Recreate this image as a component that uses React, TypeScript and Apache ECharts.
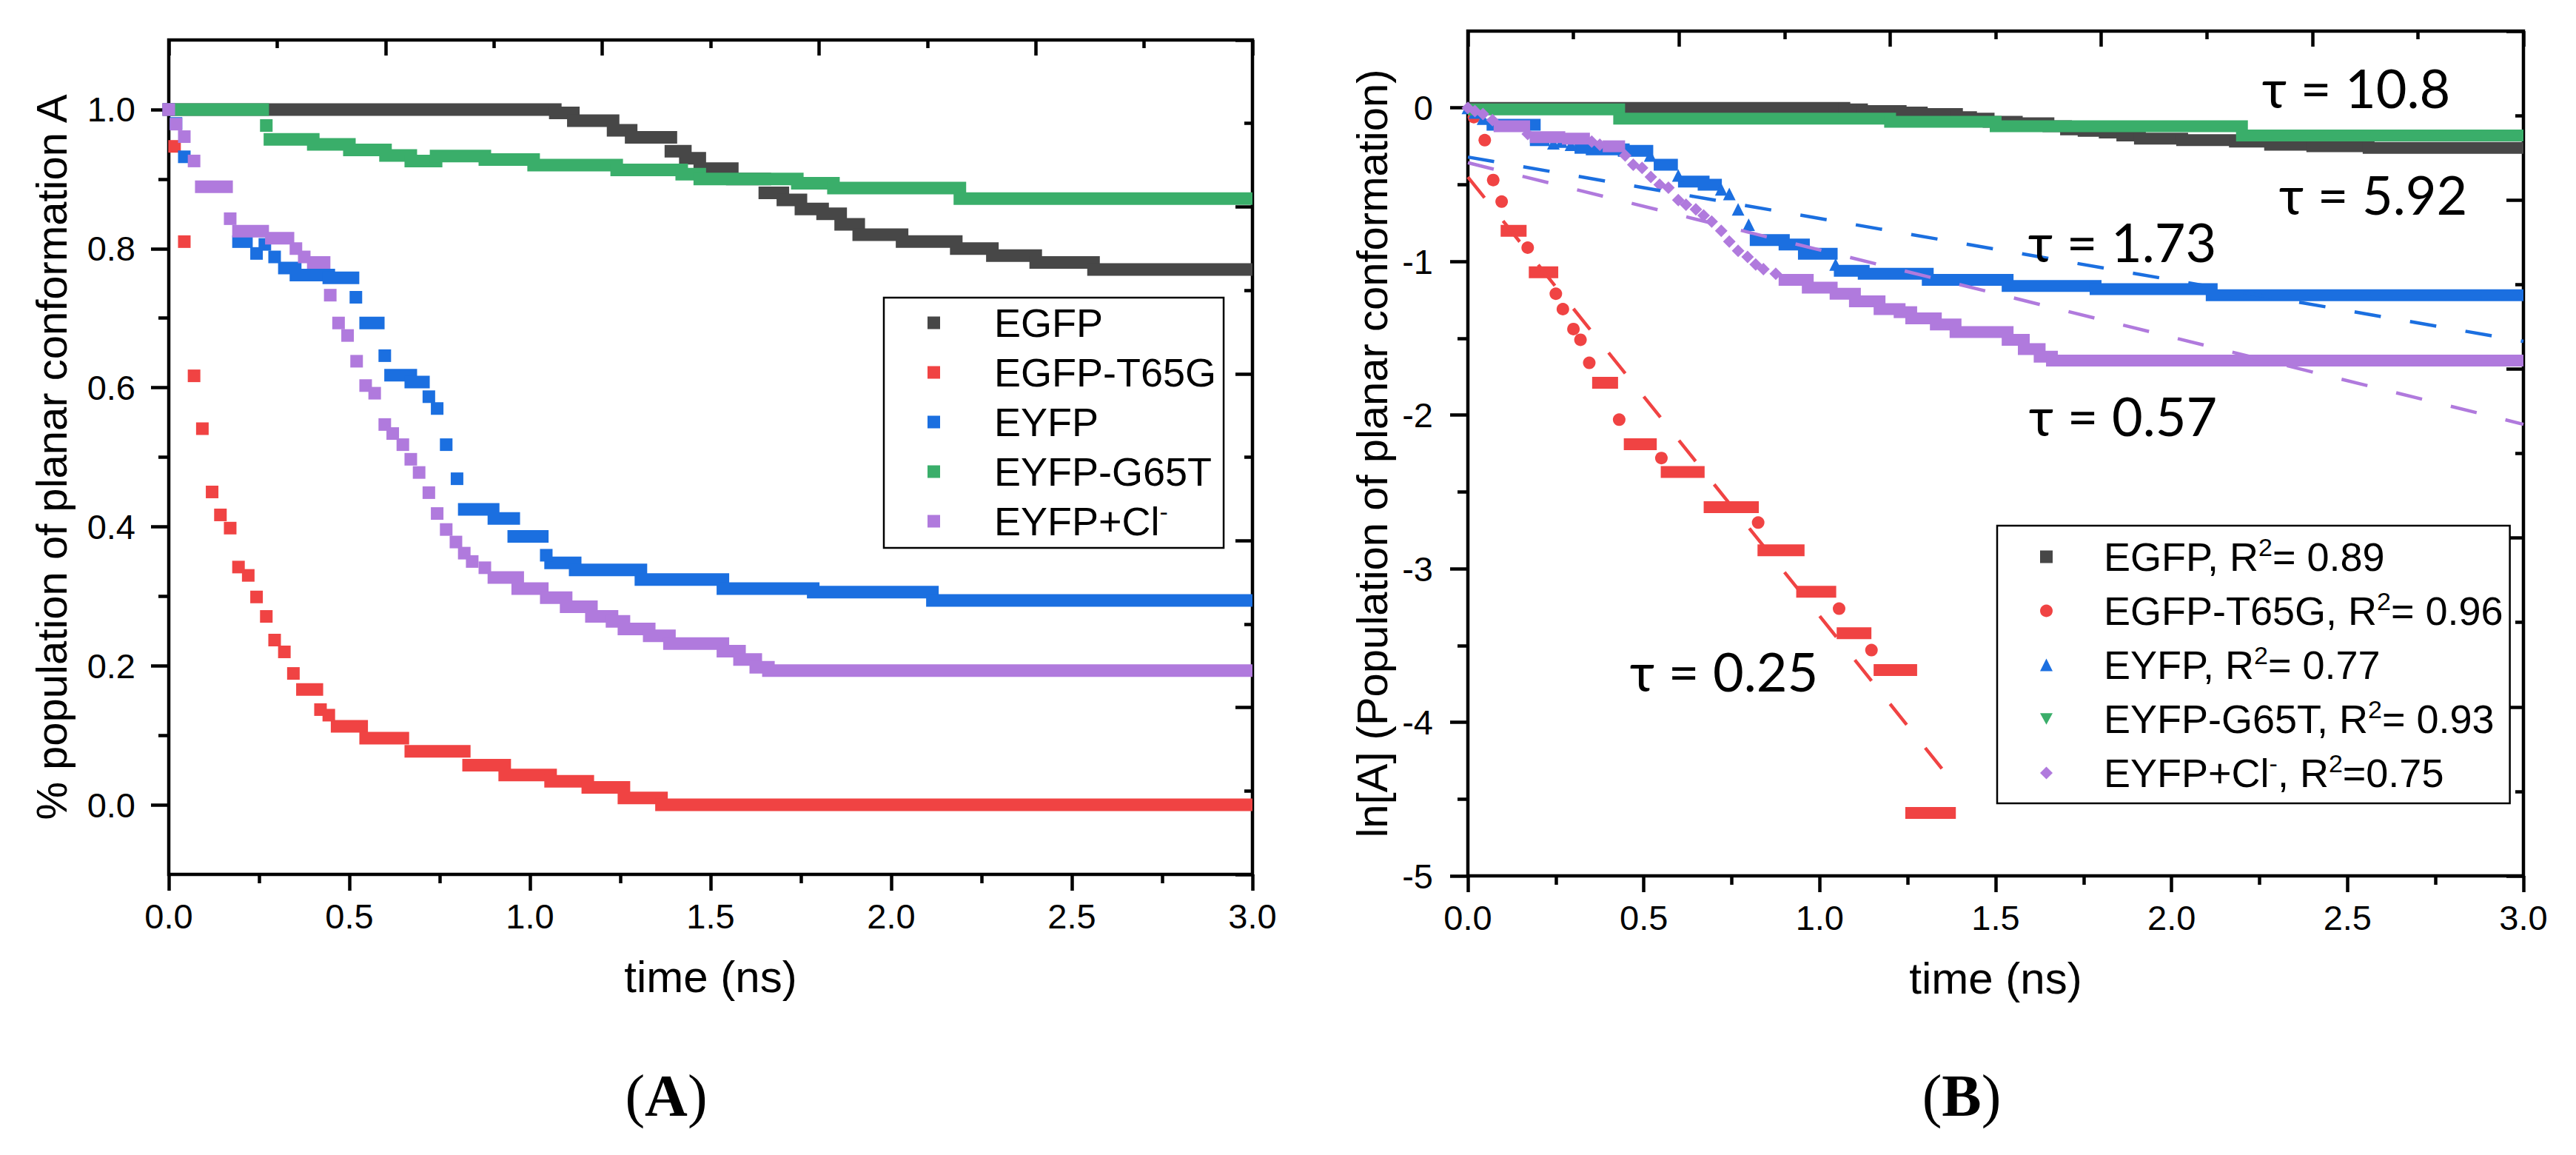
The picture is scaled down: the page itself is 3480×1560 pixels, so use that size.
import React, { useEffect, useRef } from 'react';
import * as echarts from 'echarts';

// ---------- shared ----------
const FONT = '"Liberation Sans", Arial, Helvetica, sans-serif';
const TAU_FONT = 'Lato, "Noto Sans", "Open Sans", sans-serif';
const SERIF = '"Liberation Serif", "Times New Roman", serif';
const COLORS = ['#474747', '#f04343', '#1b6fe0', '#3aae6a', '#b07add'];

// ---------- panel A: population (segments [tStart, tEnd, value]) ----------
const NAMES_A = ['EGFP', 'EGFP-T65G', 'EYFP', 'EYFP-G65T', 'EYFP+Cl⁻'];
const Y_A_MAJOR = [0, 0.2, 0.4, 0.6, 0.8, 1.0];
const Y_A_MINOR = [0.1, 0.3, 0.5, 0.7, 0.9];

const EGFP_A = [
  [0, 1.07, 1.0], [1.07, 1.12, 0.995], [1.12, 1.23, 0.984], [1.23, 1.28, 0.97], [1.28, 1.39, 0.96],
  [1.39, 1.43, 0.94], [1.43, 1.47, 0.93], [1.47, 1.56, 0.915], [1.56, 1.65, 0.9], [1.65, 1.7, 0.88],
  [1.7, 1.75, 0.87], [1.75, 1.81, 0.857], [1.81, 1.86, 0.85], [1.86, 1.91, 0.835], [1.91, 2.03, 0.82],
  [2.03, 2.18, 0.81], [2.18, 2.28, 0.8], [2.28, 2.4, 0.79], [2.4, 2.56, 0.78], [2.56, 3.0, 0.77],
];
const T65G_A = [
  [0, 0, 1.0], [0.016, 0.016, 0.947], [0.043, 0.043, 0.81], [0.07, 0.07, 0.617], [0.093, 0.093, 0.541],
  [0.12, 0.12, 0.45], [0.143, 0.143, 0.417], [0.17, 0.17, 0.398], [0.193, 0.193, 0.342], [0.22, 0.22, 0.33],
  [0.243, 0.243, 0.299], [0.27, 0.27, 0.271], [0.293, 0.293, 0.237], [0.32, 0.32, 0.22], [0.345, 0.345, 0.189],
  [0.37, 0.41, 0.166], [0.42, 0.42, 0.137], [0.443, 0.443, 0.129], [0.466, 0.534, 0.113], [0.545, 0.648, 0.096],
  [0.67, 0.818, 0.077], [0.83, 0.93, 0.057], [0.93, 1.057, 0.043], [1.057, 1.16, 0.034], [1.16, 1.26, 0.025],
  [1.26, 1.364, 0.01], [1.364, 3.0, 0.0],
];
const EYFP_A = [
  [0, 0, 1.0], [0.02, 0.02, 0.98], [0.043, 0.043, 0.932], [0.193, 0.215, 0.81], [0.243, 0.243, 0.793],
  [0.266, 0.266, 0.806], [0.293, 0.293, 0.788], [0.32, 0.35, 0.772], [0.352, 0.443, 0.762], [0.443, 0.51, 0.758],
  [0.518, 0.518, 0.73], [0.545, 0.58, 0.693], [0.598, 0.598, 0.646], [0.614, 0.67, 0.618], [0.67, 0.705, 0.608],
  [0.72, 0.72, 0.587], [0.743, 0.743, 0.57], [0.768, 0.768, 0.518], [0.798, 0.798, 0.469], [0.818, 0.898, 0.425],
  [0.9, 0.955, 0.412], [0.955, 1.034, 0.386], [1.045, 1.045, 0.359], [1.057, 1.125, 0.348], [1.125, 1.307, 0.338],
  [1.307, 1.534, 0.324], [1.534, 1.784, 0.311], [1.784, 2.114, 0.306], [2.114, 3.0, 0.294],
];
const G65T_A = [
  [0, 0.26, 1.0], [0.27, 0.27, 0.977], [0.28, 0.4, 0.957], [0.4, 0.5, 0.95], [0.5, 0.6, 0.942],
  [0.6, 0.67, 0.934], [0.67, 0.74, 0.926], [0.74, 0.875, 0.933], [0.875, 1.01, 0.928], [1.01, 1.24, 0.92],
  [1.24, 1.42, 0.913], [1.42, 1.47, 0.907], [1.47, 1.74, 0.9], [1.74, 1.84, 0.894], [1.84, 2.19, 0.887],
  [2.19, 3.0, 0.872],
];
const CL_A = [
  [0, 0, 1.0], [0.02, 0.02, 0.979], [0.043, 0.043, 0.961], [0.07, 0.07, 0.926], [0.09, 0.16, 0.889],
  [0.17, 0.17, 0.843], [0.193, 0.26, 0.825], [0.284, 0.33, 0.815], [0.352, 0.352, 0.8], [0.375, 0.375, 0.788],
  [0.4, 0.43, 0.78], [0.447, 0.447, 0.733], [0.47, 0.47, 0.693], [0.495, 0.495, 0.675], [0.52, 0.52, 0.638],
  [0.545, 0.545, 0.603], [0.57, 0.57, 0.592], [0.598, 0.598, 0.547], [0.62, 0.62, 0.534], [0.648, 0.648, 0.518],
  [0.67, 0.67, 0.497], [0.693, 0.693, 0.478], [0.72, 0.72, 0.449], [0.743, 0.743, 0.419], [0.768, 0.768, 0.396],
  [0.795, 0.795, 0.378], [0.818, 0.818, 0.362], [0.84, 0.84, 0.35], [0.875, 0.875, 0.341], [0.9, 0.966, 0.327],
  [0.966, 1.034, 0.311], [1.045, 1.1, 0.298], [1.1, 1.17, 0.285], [1.17, 1.227, 0.271], [1.227, 1.26, 0.264],
  [1.26, 1.33, 0.253], [1.33, 1.386, 0.243], [1.386, 1.534, 0.232], [1.534, 1.58, 0.221], [1.58, 1.625, 0.209],
  [1.625, 1.66, 0.198], [1.66, 3.0, 0.193],
];

// ---------- panel B: ln[A] ----------
const NAMES_B = ['EGFP, R²= 0.89', 'EGFP-T65G, R²= 0.96', 'EYFP, R²= 0.77', 'EYFP-G65T, R²= 0.93', 'EYFP+Cl⁻, R²=0.75'];
const INV_TRI = 'path://M0,0L10,0L5,9z';
const SYMBOLS_B = ['rect', 'circle', 'triangle', INV_TRI, 'diamond'];
const Y_B_MAJOR = [-5, -4, -3, -2, -1, 0];
const Y_B_MINOR = [-4.5, -3.5, -2.5, -1.5, -0.5];

const EGFP_B = [
  [0, 1.07, 0], [1.07, 1.12, -0.01], [1.12, 1.23, -0.02], [1.23, 1.29, -0.03], [1.29, 1.39, -0.04],
  [1.39, 1.43, -0.06], [1.43, 1.48, -0.07], [1.48, 1.56, -0.09], [1.56, 1.65, -0.1], [1.65, 1.7, -0.12],
  [1.7, 1.75, -0.14], [1.75, 1.81, -0.15], [1.81, 1.86, -0.16], [1.86, 1.91, -0.18], [1.91, 2.03, -0.2],
  [2.03, 2.18, -0.21], [2.18, 2.28, -0.22], [2.28, 2.4, -0.24], [2.4, 2.56, -0.25], [2.56, 3.0, -0.26],
];
const T65G_B = [
  [0.017, 0.017, -0.06], [0.048, 0.048, -0.21], [0.072, 0.072, -0.47], [0.096, 0.096, -0.61], [0.11, 0.15, -0.8],
  [0.17, 0.17, -0.91], [0.19, 0.24, -1.07], [0.25, 0.25, -1.21], [0.27, 0.27, -1.31], [0.3, 0.3, -1.44],
  [0.32, 0.32, -1.51], [0.345, 0.345, -1.66], [0.37, 0.41, -1.79], [0.43, 0.43, -2.03], [0.46, 0.52, -2.19],
  [0.55, 0.55, -2.28], [0.565, 0.656, -2.37], [0.687, 0.81, -2.6], [0.825, 0.825, -2.7], [0.84, 0.94, -2.88],
  [0.95, 1.03, -3.15], [1.055, 1.055, -3.26], [1.065, 1.13, -3.42], [1.147, 1.147, -3.53], [1.17, 1.26, -3.66],
  [1.26, 1.37, -4.59],
];
const EYFP_B = [
  [0, 0, 0], [0.02, 0.02, -0.03], [0.043, 0.043, -0.07], [0.07, 0.19, -0.11], [0.193, 0.215, -0.21],
  [0.243, 0.243, -0.23], [0.266, 0.266, -0.22], [0.293, 0.293, -0.24], [0.32, 0.35, -0.26], [0.352, 0.443, -0.27],
  [0.443, 0.51, -0.28], [0.518, 0.518, -0.31], [0.545, 0.58, -0.37], [0.598, 0.598, -0.44], [0.614, 0.67, -0.48],
  [0.67, 0.705, -0.5], [0.72, 0.72, -0.53], [0.743, 0.743, -0.56], [0.768, 0.768, -0.66], [0.798, 0.798, -0.76],
  [0.818, 0.898, -0.86], [0.9, 0.955, -0.89], [0.955, 1.034, -0.95], [1.045, 1.045, -1.02], [1.057, 1.125, -1.06],
  [1.125, 1.307, -1.08], [1.307, 1.534, -1.12], [1.534, 1.784, -1.16], [1.784, 2.114, -1.18], [2.114, 3.0, -1.22],
];
const G65T_B = [
  [0, 0.43, -0.01], [0.43, 1.2, -0.07], [1.2, 1.5, -0.09], [1.5, 2.2, -0.12], [2.2, 3.0, -0.18],
];
const CL_B = [
  [0, 0, 0], [0.02, 0.02, -0.02], [0.043, 0.043, -0.04], [0.07, 0.07, -0.08], [0.09, 0.16, -0.12],
  [0.17, 0.17, -0.17], [0.193, 0.26, -0.19], [0.284, 0.33, -0.2], [0.352, 0.352, -0.22], [0.375, 0.375, -0.24],
  [0.4, 0.43, -0.25], [0.447, 0.447, -0.31], [0.47, 0.47, -0.37], [0.495, 0.495, -0.39], [0.52, 0.52, -0.45],
  [0.545, 0.545, -0.5], [0.57, 0.57, -0.52], [0.598, 0.598, -0.6], [0.62, 0.62, -0.63], [0.648, 0.648, -0.66],
  [0.67, 0.67, -0.7], [0.693, 0.693, -0.74], [0.72, 0.72, -0.8], [0.743, 0.743, -0.87], [0.768, 0.768, -0.93],
  [0.795, 0.795, -0.97], [0.818, 0.818, -1.02], [0.84, 0.84, -1.05], [0.875, 0.875, -1.08], [0.9, 0.966, -1.12],
  [0.966, 1.034, -1.17], [1.045, 1.1, -1.21], [1.1, 1.17, -1.26], [1.17, 1.227, -1.31], [1.227, 1.26, -1.33],
  [1.26, 1.33, -1.37], [1.33, 1.386, -1.41], [1.386, 1.534, -1.46], [1.534, 1.58, -1.51], [1.58, 1.625, -1.57],
  [1.625, 1.66, -1.62], [1.66, 3.0, -1.645],
];

// linear fits (dashed), endpoints
const FIT_T65G = [[0, -0.45], [1.357, -4.33]];
const FIT_EYFP = [[0, -0.32], [3.0, -1.52]];
const FIT_CL = [[0, -0.357], [3.0, -2.06]];

const TAU_LABELS = [
  { text: 'τ = 10.8', x: 3183, y: 118 },
  { text: 'τ = 5.92', x: 3206, y: 262 },
  { text: 'τ = 1.73', x: 2867, y: 326 },
  { text: 'τ = 0.57', x: 2868, y: 561 },
  { text: 'τ = 0.25', x: 2329, y: 906 },
];

const DATA_A = [EGFP_A, T65G_A, EYFP_A, G65T_A, CL_A];
const DATA_B = [EGFP_B, T65G_B, EYFP_B, G65T_B, CL_B];

const tickLine = () => ({ width: 4.5, color: '#000' });
const noLine = () => ({ show: false, onZero: false });

function bandRenderer(color: string, size: number) {
  return (_params: any, api: any) => {
    const t0 = api.value(0);
    const t1 = api.value(1);
    const v = api.value(2);
    const a = api.coord([t0, v]);
    const b = api.coord([t1, v]);
    return {
      type: 'rect',
      shape: { x: a[0] - size / 2, y: a[1] - size / 2, width: b[0] - a[0] + size, height: size },
      style: { fill: color },
    };
  };
}

function richName(name: string) {
  return name.replace('²', '{sup|2}').replace('⁻', '{sup|-}');
}

function panelSeries(
  names: string[], data: number[][][], xi: number, yi: number,
  symbols: string[], symSize: number, bandSize: number,
) {
  const out: any[] = [];
  names.forEach((name, i) => {
    const singles = data[i].filter((d) => d[0] === d[1]).map((d) => [d[0], d[2]]);
    const segs = data[i].filter((d) => d[1] > d[0]);
    out.push({
      type: 'scatter', name, xAxisIndex: xi, yAxisIndex: yi, data: singles,
      symbol: symbols[i], symbolSize: symSize, itemStyle: { color: COLORS[i], opacity: 1 },
      silent: true, z: 2 + i * 0.01,
    });
    out.push({
      type: 'custom', name, xAxisIndex: xi, yAxisIndex: yi, data: segs,
      dimensions: ['t0', 't1', 'v'], encode: { x: [0, 1], y: 2 },
      renderItem: bandRenderer(COLORS[i], bandSize), clip: true,
      itemStyle: { color: COLORS[i] }, silent: true, z: 2 + i * 0.01,
    });
  });
  return out;
}

function bottomAxis(gridIndex: number) {
  return {
    type: 'value', gridIndex, position: 'bottom', min: 0, max: 3, interval: 0.5,
    axisLine: noLine(), splitLine: { show: false },
    axisTick: { show: true, length: 22, lineStyle: tickLine() },
    minorTick: { show: true, splitNumber: 2, length: 12, lineStyle: tickLine() },
    axisLabel: {
      formatter: (v: number) => v.toFixed(1), margin: 33, fontSize: 47,
      fontFamily: FONT, color: '#000',
    },
    name: 'time (ns)', nameLocation: 'middle', nameGap: 108,
    nameTextStyle: { fontSize: 60, fontFamily: FONT, color: '#000' },
  };
}
function topAxis(gridIndex: number) {
  return {
    type: 'value', gridIndex, position: 'top', min: 0, max: 3, interval: 0.6,
    axisLine: noLine(), splitLine: { show: false }, axisLabel: { show: false },
    axisTick: { show: true, inside: true, length: 21, lineStyle: tickLine() },
    minorTick: { show: true, splitNumber: 2, length: 11, lineStyle: tickLine() },
  };
}
function rightAxis(gridIndex: number) {
  return {
    type: 'value', gridIndex, position: 'right', min: -4, max: 1, interval: 1,
    axisLine: noLine(), splitLine: { show: false }, axisLabel: { show: false },
    axisTick: { show: true, inside: true, length: 23, lineStyle: tickLine() },
    minorTick: { show: true, splitNumber: 2, length: 11, lineStyle: tickLine() },
  };
}

function legendFor(names: string[], icons: string[], box: any) {
  return {
    data: names.map((n, i) => ({ name: n, icon: icons[i] })),
    orient: 'vertical', left: box.left, top: box.top, padding: box.padding,
    itemGap: box.gap, itemWidth: 17, itemHeight: 17,
    borderColor: '#000', borderWidth: 2.5, borderRadius: 0, backgroundColor: '#fff',
    selectedMode: false, formatter: (n: string) => richName(n),
    textStyle: {
      fontSize: 54, lineHeight: 60, fontFamily: FONT, color: '#000', padding: [0, 0, 0, box.textPad],
      rich: { sup: { fontSize: 34, lineHeight: 40, verticalAlign: 'top', fontFamily: FONT, color: '#000' } },
    },
  };
}

export default function App() {
  const ref = useRef<HTMLDivElement>(null);
  useEffect(() => {
    document.body.style.margin = '0';
    if (!ref.current) return;
    const chart = echarts.init(ref.current, undefined, { renderer: 'svg' });
    const fitLine = (data: number[][], color: string) => ({
      type: 'line', xAxisIndex: 2, yAxisIndex: 3, data, symbol: 'none', silent: true,
      lineStyle: { color, width: 4.5, type: [36, 40] }, z: 5,
    });
    chart.setOption({
      animation: false,
      backgroundColor: '#fff',
      grid: [
        { left: 228, top: 54, width: 1464, height: 1127, show: true, borderColor: '#000', borderWidth: 4.5 },
        { left: 1983, top: 42, width: 1426, height: 1141, show: true, borderColor: '#000', borderWidth: 4.5 },
      ],
      xAxis: [bottomAxis(0), topAxis(0), bottomAxis(1), topAxis(1)],
      yAxis: [
        {
          type: 'value', gridIndex: 0, position: 'left', min: -0.1, max: 1.1,
          axisLine: noLine(), splitLine: { show: false },
          axisTick: { show: true, length: 24, customValues: Y_A_MAJOR, lineStyle: tickLine() },
          axisLabel: {
            customValues: Y_A_MAJOR, formatter: (v: number) => v.toFixed(1), margin: 45,
            fontSize: 47, fontFamily: FONT, color: '#000',
          },
          name: '% population of planar conformation A', nameLocation: 'middle', nameGap: 130,
          nameTextStyle: { fontSize: 58, fontFamily: FONT, color: '#000' },
        },
        {
          type: 'value', gridIndex: 0, position: 'left', min: -0.1, max: 1.1,
          axisLine: noLine(), splitLine: { show: false }, axisLabel: { show: false },
          axisTick: { show: true, length: 14, customValues: Y_A_MINOR, lineStyle: tickLine() },
        },
        rightAxis(0),
        {
          type: 'value', gridIndex: 1, position: 'left', min: -5, max: 0.5,
          axisLine: noLine(), splitLine: { show: false },
          axisTick: { show: true, length: 24, customValues: Y_B_MAJOR, lineStyle: tickLine() },
          axisLabel: {
            customValues: Y_B_MAJOR, formatter: (v: number) => String(v), margin: 47,
            fontSize: 47, fontFamily: FONT, color: '#000',
          },
          name: 'ln[A] (Population of planar conformation)', nameLocation: 'middle', nameGap: 101,
          nameTextStyle: { fontSize: 58, fontFamily: FONT, color: '#000' },
        },
        {
          type: 'value', gridIndex: 1, position: 'left', min: -5, max: 0.5,
          axisLine: noLine(), splitLine: { show: false }, axisLabel: { show: false },
          axisTick: { show: true, length: 14, customValues: Y_B_MINOR, lineStyle: tickLine() },
        },
        rightAxis(1),
      ],
      legend: [
        legendFor(NAMES_A, ['rect', 'rect', 'rect', 'rect', 'rect'], { left: 1194, top: 402, padding: [4, 10, 6, 59], gap: 7, textPad: 68 }),
        legendFor(NAMES_B, SYMBOLS_B, { left: 2698, top: 710, padding: [12, 9, 11, 58], gap: 13, textPad: 64 }),
      ],
      series: [
        ...panelSeries(NAMES_A, DATA_A, 0, 0, ['rect', 'rect', 'rect', 'rect', 'rect'], 17, 17),
        ...panelSeries(NAMES_B, DATA_B, 2, 3, SYMBOLS_B, 17, 16),
        fitLine(FIT_T65G, COLORS[1]),
        fitLine(FIT_EYFP, COLORS[2]),
        fitLine(FIT_CL, COLORS[4]),
      ],
      graphic: [
        ...TAU_LABELS.map((l) => ({
          type: 'text', x: l.x, y: l.y, z: 10, silent: true,
          style: { text: l.text, fontSize: 72, fontFamily: TAU_FONT, fill: '#000', align: 'center', verticalAlign: 'middle' },
        })),
        {
          type: 'text', x: 900, y: 1480, silent: true,
          style: {
            text: '({b|A})', fontSize: 80, fontFamily: SERIF, fill: '#000', align: 'center', verticalAlign: 'middle',
            rich: { b: { fontSize: 80, fontFamily: SERIF, fontWeight: 'bold', fill: '#000' } },
          },
        },
        {
          type: 'text', x: 2650, y: 1480, silent: true,
          style: {
            text: '({b|B})', fontSize: 80, fontFamily: SERIF, fill: '#000', align: 'center', verticalAlign: 'middle',
            rich: { b: { fontSize: 80, fontFamily: SERIF, fontWeight: 'bold', fill: '#000' } },
          },
        },
      ],
    });
    return () => chart.dispose();
  }, []);
  return <div ref={ref} style={{ width: 3480, height: 1560 }} />;
}
